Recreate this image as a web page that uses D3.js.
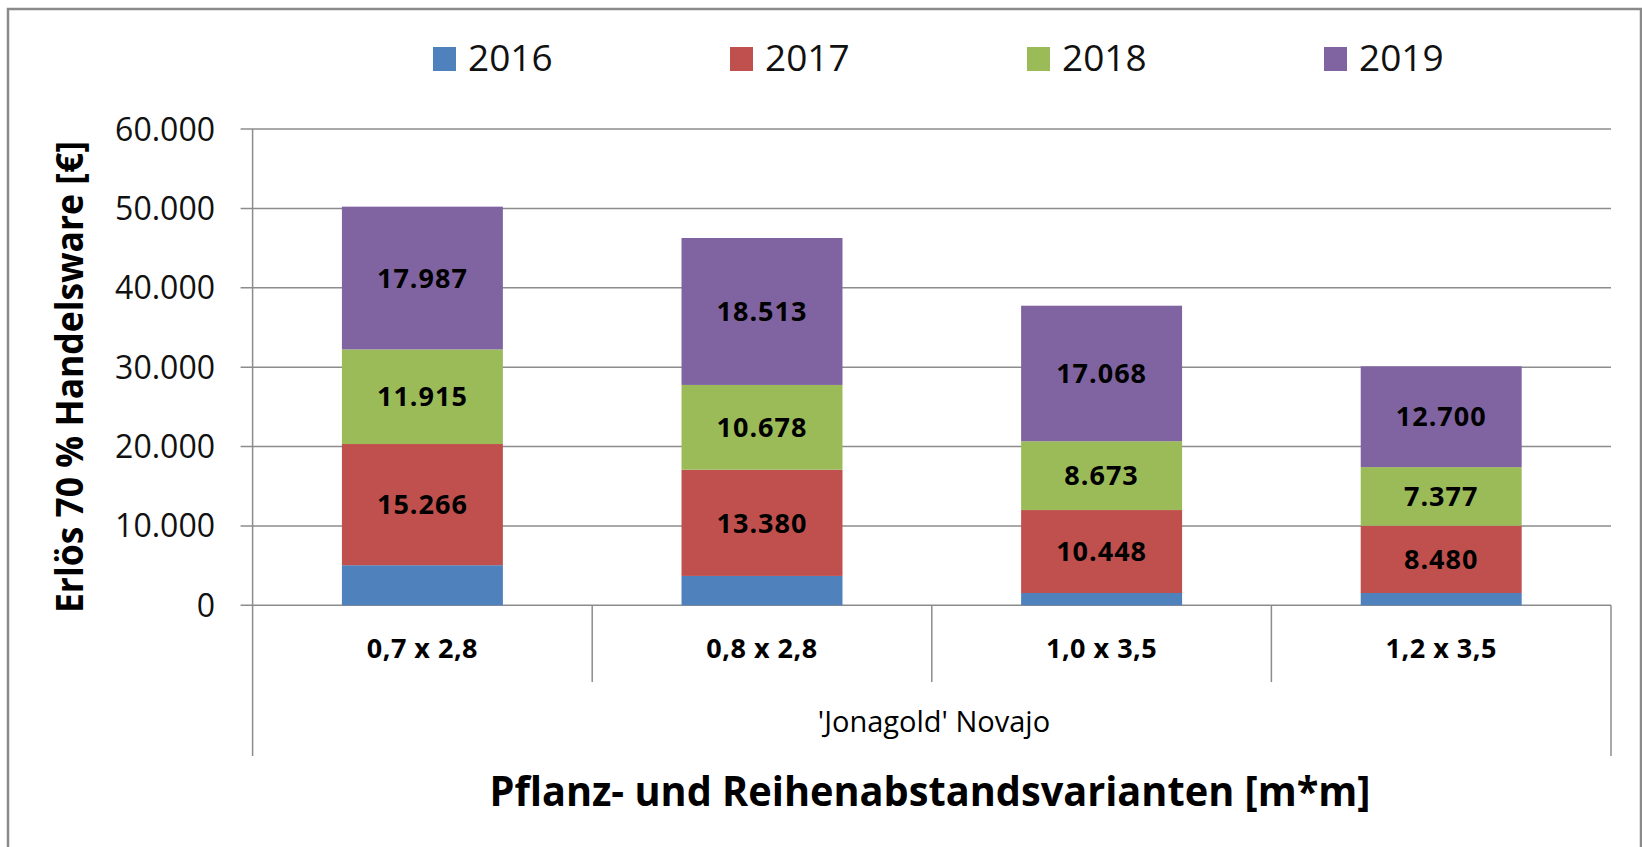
<!DOCTYPE html>
<html lang="de">
<head>
    <meta charset="UTF-8">
    <title>Erlös 70 % Handelsware</title>
    <script src="https://d3js.org/d3.v7.min.js"></script>
    <style>
        body { margin: 0; background: #fff; }
        svg { display: block; font-family: "Open Sans", sans-serif; }
        .grid line { stroke: #8c8c8c; stroke-width: 1.5px; }
        .frame { stroke: #8a8a8a; stroke-width: 2.5px; }
    </style>
</head>
<body>
    <svg id="chart"></svg>
    <script>
        // data
        const categories = ["0,7 x 2,8", "0,8 x 2,8", "1,0 x 3,5", "1,2 x 3,5"];
        const groupLabel = "'Jonagold' Novajo";
        const years = ["2016", "2017", "2018", "2019"];
        const v2016 = [5050, 3700, 1550, 1550];
        const v2017 = [15266, 13380, 10448, 8480];
        const v2018 = [11915, 10678, 8673, 7377];
        const v2019 = [17987, 18513, 17068, 12700];
        const showLabel = [false, true, true, true];
        const colors = ["#4F81BD", "#C0504D", "#9BBB59", "#8064A2"];
        const yTicks = [0, 10000, 20000, 30000, 40000, 50000, 60000];

        const W = 1642, H = 847;
        const plotL = 252.6, plotR = 1611, plotT = 129, plotB = 605.3;

        const de = d3.formatLocale({ decimal: ",", thousands: ".", grouping: [3], currency: ["", " €"] });
        const fmt = de.format(",.0f");

        const svg = d3.select("#chart").attr("width", W).attr("height", H);
        svg.append("rect").attr("width", W).attr("height", H).attr("fill", "#fff");

        // outer frame (open at the bottom)
        svg.append("path").attr("class", "frame").attr("fill", "none")
            .attr("d", `M8,${H} L8,9 L1641,9 L1641,${H}`);

        const rows = categories.map((c, i) => ({
            cat: c, "2016": v2016[i], "2017": v2017[i], "2018": v2018[i], "2019": v2019[i]
        }));
        const series = d3.stack().keys(years)(rows);

        const x = d3.scaleBand().domain(categories).range([plotL, plotR]).padding(0);
        const y = d3.scaleLinear().domain([0, 60000]).range([plotB, plotT]);
        const barW = x.bandwidth() * 0.474;

        // gridlines + left ticks
        const grid = svg.append("g").attr("class", "grid");
        grid.selectAll("line.h").data(yTicks).join("line").attr("class", "h")
            .attr("x1", plotL - 12).attr("x2", plotR)
            .attr("y1", d => y(d)).attr("y2", d => y(d));

        // axis lines, extending down through the category area
        grid.append("line").attr("x1", plotL).attr("x2", plotL).attr("y1", plotT).attr("y2", 756);
        grid.append("line").attr("x1", plotR).attr("x2", plotR).attr("y1", plotB).attr("y2", 756);
        grid.selectAll("line.sep").data(categories.slice(1)).join("line").attr("class", "sep")
            .attr("x1", d => x(d)).attr("x2", d => x(d))
            .attr("y1", plotB).attr("y2", 682);

        // y tick labels
        svg.append("g").selectAll("text").data(yTicks).join("text")
            .attr("x", 215).attr("y", d => y(d)).attr("dy", "0.36em")
            .attr("text-anchor", "end").attr("font-size", 32).attr("fill", "#111")
            .text(d => fmt(d));

        // bars
        const layers = svg.append("g").selectAll("g").data(series).join("g")
            .attr("fill", (d, i) => colors[i]);
        layers.selectAll("rect").data(d => d).join("rect")
            .attr("x", d => x(d.data.cat) + (x.bandwidth() - barW) / 2)
            .attr("width", barW)
            .attr("y", d => y(d[1]))
            .attr("height", d => y(d[0]) - y(d[1]));

        // segment labels
        series.forEach((s, i) => {
            if (!showLabel[i]) return;
            svg.append("g").selectAll("text").data(s).join("text")
                .attr("x", d => x(d.data.cat) + x.bandwidth() / 2)
                .attr("y", d => (y(d[0]) + y(d[1])) / 2)
                .attr("dy", "0.36em")
                .attr("text-anchor", "middle").attr("font-size", 27).attr("font-weight", 700)
                .attr("letter-spacing", 1).attr("fill", "#000")
                .text(d => fmt(d[1] - d[0]));
        });

        // category labels
        svg.append("g").selectAll("text").data(categories).join("text")
            .attr("x", d => x(d) + x.bandwidth() / 2).attr("y", 648).attr("dy", "0.36em")
            .attr("text-anchor", "middle").attr("font-size", 27).attr("font-weight", 700)
            .attr("letter-spacing", 0.5)
            .text(d => d);

        svg.append("text")
            .attr("x", 934).attr("y", 722).attr("dy", "0.36em")
            .attr("text-anchor", "middle").attr("font-size", 29).attr("fill", "#000")
            .text(groupLabel);

        // axis titles
        svg.append("text")
            .attr("x", 930).attr("y", 806)
            .attr("text-anchor", "middle").attr("font-size", 41).attr("font-weight", 700)
            .attr("textLength", 881).attr("lengthAdjust", "spacingAndGlyphs")
            .text("Pflanz- und Reihenabstandsvarianten [m*m]");

        svg.append("text")
            .attr("transform", "translate(83,377) rotate(-90)")
            .attr("text-anchor", "middle").attr("font-size", 38).attr("font-weight", 700)
            .attr("textLength", 472).attr("lengthAdjust", "spacingAndGlyphs")
            .text("Erlös 70 % Handelsware [€]");

        // legend
        const legend = svg.append("g").selectAll("g").data(years).join("g")
            .attr("transform", (d, i) => `translate(${433 + i * 297},47)`);
        legend.append("rect").attr("width", 23).attr("height", 24)
            .attr("fill", (d, i) => colors[i]);
        legend.append("text").attr("x", 35).attr("y", 24)
            .attr("font-size", 37).attr("fill", "#111")
            .text(d => d);
    </script>
</body>
</html>
